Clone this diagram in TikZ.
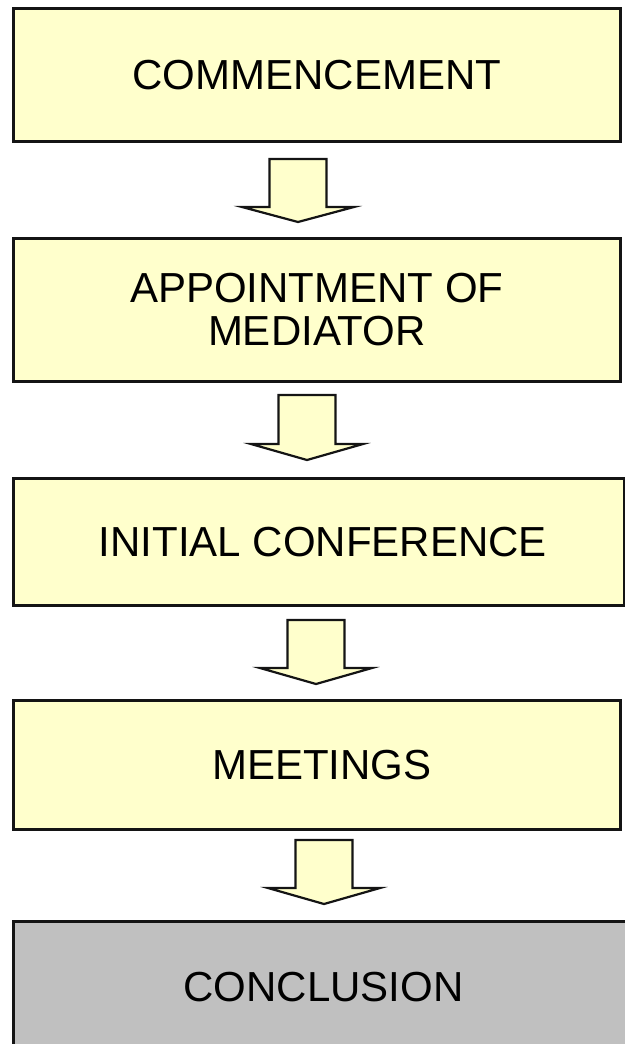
\documentclass[tikz,border=0pt]{standalone}
\usepackage{fontspec}
\setmainfont{Liberation Sans}
\definecolor{boxyellow}{HTML}{FFFFCC}
\definecolor{boxgray}{HTML}{C0C0C0}
\definecolor{edge}{HTML}{141414}
\newcommand\blockarrow[4]{% centre x, shaft top, head base, tip
  \draw[blockarrowstyle] (#1-28.5,#2) -- (#1+28.5,#2) -- (#1+28.5,#3) -- (#1+56,#3)
    -- (#1,#4) -- (#1-56,#3) -- (#1-28.5,#3) -- cycle;}
\begin{document}
\begin{tikzpicture}[x=1pt,y=-1pt,
  box/.style={draw=edge, line width=2.8pt, fill=boxyellow, inner sep=0pt,
    anchor=north west, align=center, font=\fontsize{42}{43}\selectfont},
  blockarrowstyle/.style={draw=edge, line width=2.2pt, fill=boxyellow, line join=miter}]
\useasboundingbox (0,0) rectangle (624,1044);
\node[box, minimum width=607pt, minimum height=133pt] (b1) at (12,7) {COMMENCEMENT};
\node[box, minimum width=607pt, minimum height=143pt] (b2) at (12,237) {APPOINTMENT OF\\MEDIATOR};
\node[box, minimum width=611pt, minimum height=127pt] (b3) at (12,477) {\hspace*{8pt}INITIAL CONFERENCE};
\node[box, minimum width=607pt, minimum height=129pt] (b4) at (12,699) {\hspace*{10pt}MEETINGS};
\node[box, fill=boxgray, minimum width=620pt, minimum height=131pt] (b5) at (12,920) {CONCLUSION};
\blockarrow{298}{159}{207}{222}
\blockarrow{307}{395}{444}{460}
\blockarrow{316}{620}{668}{684}
\blockarrow{324}{840}{888}{904}
\end{tikzpicture}
\end{document}
